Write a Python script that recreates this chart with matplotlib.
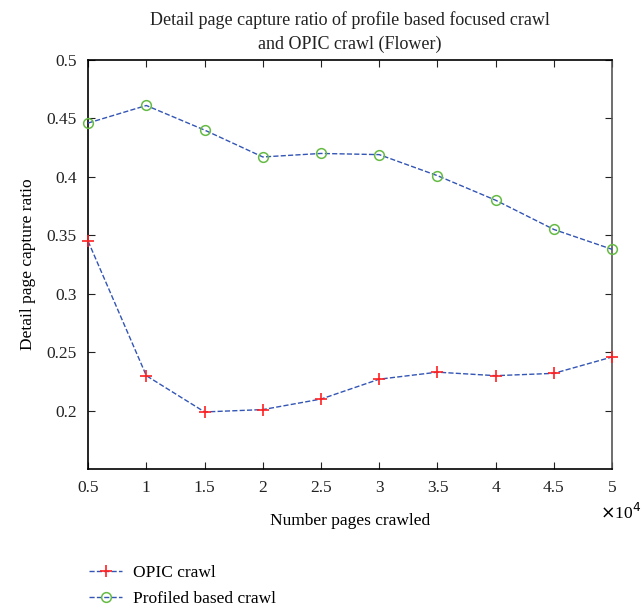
import numpy as np
import matplotlib
matplotlib.use('Agg')
import matplotlib.pyplot as plt

# Datos
paginas = [5000, 10000, 15000, 20000, 25000, 30000, 35000, 40000, 45000, 50000]
opic = [0.345, 0.230, 0.199, 0.201, 0.210, 0.227, 0.233, 0.230, 0.232, 0.246]
perfil = [0.446, 0.461, 0.440, 0.417, 0.420, 0.419, 0.401, 0.380, 0.355, 0.338]

plt.rcParams['font.family'] = ['Liberation Serif', 'DejaVu Serif']
plt.rcParams['font.size'] = 12.5

fig = plt.figure(figsize=(6.43, 6.11), dpi=100)
ax = fig.add_axes([0.137, 0.232, 0.815, 0.670])

ax.plot(paginas, opic, linestyle='--', color='#3355b5', linewidth=1.0,
        marker='+', markersize=9, markeredgecolor='#ff2020', markeredgewidth=1.2,
        label='OPIC crawl', clip_on=False, zorder=3)
ax.plot(paginas, perfil, linestyle='--', color='#3355b5', linewidth=1.0,
        marker='o', markersize=7, markerfacecolor='none', markeredgecolor='#66bb44',
        markeredgewidth=1.1, label='Profiled based crawl', clip_on=False, zorder=3)

ax.set_xlim(5000, 50000)
ax.set_ylim(0.15, 0.5)
ax.set_xticks(paginas)
ax.set_xticklabels(['0.5', '1', '1.5', '2', '2.5', '3', '3.5', '4', '4.5', '5'])
ax.set_yticks([0.2, 0.25, 0.3, 0.35, 0.4, 0.45, 0.5])
ax.set_yticklabels(['0.2', '0.25', '0.3', '0.35', '0.4', '0.45', '0.5'])
ax.tick_params(direction='in', top=True, right=True, length=5, pad=8, colors='#222222')
for s in ax.spines.values():
    s.set_linewidth(1.2)
ax.spines['right'].set_color('#555555')

fig.text(0.997, 0.160, r'$\times$10$^4$', ha='right', va='center')
ax.set_xlabel('Number pages crawled', labelpad=12)
ax.set_ylabel('Detail page capture ratio', labelpad=8)
ax.set_title('Detail page capture ratio of profile based focused crawl\nand OPIC crawl (Flower)',
             pad=8, color='#222222', fontsize=13, linespacing=1.5)

fig.legend(loc='lower left', bbox_to_anchor=(0.12, -0.013), frameon=False,
           handlelength=1.9, handletextpad=0.6, labelspacing=0.55, borderaxespad=0.3)

fig.savefig('out.png', dpi=100)
